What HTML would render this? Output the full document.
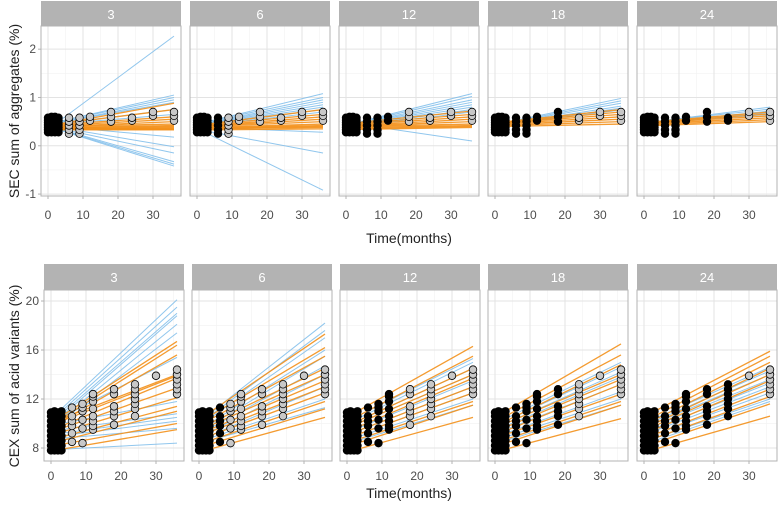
<!DOCTYPE html>
<html><head><meta charset="utf-8">
<style>
html,body{margin:0;padding:0;background:#fff;}
svg{display:block;font-family:"Liberation Sans",Arial,sans-serif;}
</style></head>
<body>
<svg id="chart" width="781" height="507" viewBox="0 0 781 507" xmlns="http://www.w3.org/2000/svg">
<text x="0" y="0" transform="translate(19,111) rotate(-90)" text-anchor="middle" font-size="14" fill="#222">SEC sum of aggregates (%)</text>
<text x="0" y="0" transform="translate(19,376) rotate(-90)" text-anchor="middle" font-size="14" fill="#222">CEX sum of acid variants (%)</text>
<text x="409" y="243" text-anchor="middle" font-size="14" fill="#222">Time(months)</text>
<text x="409" y="498" text-anchor="middle" font-size="14" fill="#222">Time(months)</text>
</svg>
<script>
// ---- data ----
const panels = ["3","6","12","18","24"];
const cutoffs = [3,6,12,18,24];
const lineStart = 3;
const xTicks = [0,10,20,30];
const topYTicks = [-1,0,1,2];
const botYTicks = [8,12,16,20];

// top row (SEC) observations
const secTimes = [0,0,0,0,0,0,0,1,1,1,1,1,1,1,2,2,2,2,2,2,2,3,3,3,3,3,3,3,6,6,6,6,6,9,9,9,9,9,12,12,18,18,18,24,24,30,30,36,36,36];
const secVals  = [0.28,0.33,0.38,0.43,0.48,0.53,0.58,0.28,0.33,0.38,0.43,0.48,0.53,0.6,0.28,0.33,0.38,0.43,0.48,0.53,0.6,0.28,0.33,0.38,0.43,0.48,0.53,0.58,0.25,0.33,0.42,0.5,0.58,0.25,0.33,0.42,0.5,0.58,0.52,0.6,0.5,0.6,0.7,0.52,0.58,0.62,0.7,0.52,0.62,0.7];
// bottom row (CEX) observations
const cexTimes = [0,0,0,0,0,0,0,0,0,1,1,1,1,1,1,1,1,1,2,2,2,2,2,2,2,2,2,3,3,3,3,3,3,3,3,3,6,6,6,6,6,6,9,9,9,9,9,9,12,12,12,12,12,12,12,12,18,18,18,18,18,18,24,24,24,24,24,24,24,30,36,36,36,36,36,36];
const cexVals  = [7.8,8.2,8.6,9,9.4,9.8,10.2,10.6,10.9,7.8,8.2,8.6,9,9.4,9.8,10.2,10.6,11,7.8,8.2,8.6,9,9.4,9.8,10.2,10.6,10.9,7.8,8.2,8.6,9,9.4,9.8,10.2,10.6,11,8.5,9.2,9.8,10.2,10.6,11.3,8.4,9.6,10.3,11,11.3,11.6,9.5,9.8,10.2,10.6,11.2,11.8,12.2,12.4,9.9,10.6,11,11.4,12.4,12.8,10.6,11.2,11.6,12,12.4,12.8,13.2,13.9,12.4,12.8,13.2,13.6,14,14.4];

// predicted lines: start value (t=3) and end value (t=36), per panel
const secBlueStart = [[0.5,0.5,0.5,0.48,0.48,0.4,0.38,0.36,0.35,0.34,0.33,0.46,0.45],[0.5,0.5,0.48,0.47,0.46,0.45,0.44,0.43,0.38,0.3,0.25],[0.48,0.47,0.46,0.45,0.44,0.43,0.42,0.41,0.45],[0.48,0.47,0.46,0.45,0.44,0.44],[0.5,0.5,0.48,0.48,0.47]];
const secBlueEnd   = [[2.27,1.05,1.0,0.95,0.9,0.18,-0.02,-0.15,-0.33,-0.38,-0.42,0.75,0.65],[1.08,1.0,0.95,0.9,0.85,0.8,0.75,0.7,0.28,-0.15,-0.92],[1.08,1.02,0.95,0.9,0.85,0.8,0.75,0.7,0.1],[0.98,0.93,0.88,0.82,0.78,0.74],[0.8,0.76,0.72,0.68,0.65]];
const secOrStart = [[0.45,0.45,0.44,0.42,0.4,0.4,0.38,0.37,0.36,0.35,0.34,0.34,0.33],[0.45,0.44,0.42,0.41,0.4,0.38,0.37,0.36,0.35,0.33],[0.48,0.46,0.44,0.42,0.41,0.4,0.38,0.36,0.34],[0.5,0.49,0.48,0.46,0.44,0.42,0.4],[0.5,0.49,0.48,0.46,0.44,0.42]];
const secOrEnd   = [[0.88,0.75,0.6,0.55,0.5,0.45,0.42,0.4,0.38,0.36,0.35,0.34,0.33],[0.75,0.65,0.6,0.55,0.5,0.45,0.42,0.4,0.38,0.35],[0.72,0.65,0.6,0.55,0.5,0.45,0.42,0.4,0.38],[0.75,0.7,0.65,0.6,0.55,0.5,0.45],[0.7,0.66,0.62,0.58,0.54,0.5]];

const cexBlueStart = [[11.2,11,10.8,10.6,10.4,10.2,10.5,10,9.5,9.2,9,8.8,7.9],[10.8,10.6,10.4,10,9.8,9.6,9.3,9,8.8,8.6],[10.6,10.4,10.2,10,9.6,9.4,9.1,8.9,8.6],[10.4,10.2,10,9.8,9.5,9.2,8.9,8.6],[10.4,10.2,10,9.8,9.6,9.4,9.1,8.8,8.6]];
const cexBlueEnd   = [[20.1,19.5,19.0,18.8,18.1,17.4,15.4,11.8,10.8,10.5,10.2,9.6,8.4],[18.2,17.6,17.0,16.0,15.5,14.7,14.0,13.0,12.0,11.3],[15.3,15,14.5,14,13.5,13,12.5,12,11.5],[15.0,14.6,14.2,13.8,13.2,12.6,12,11.5],[14.6,14.3,14,13.6,13.3,13,12.5,12,11.8]];
const cexOrStart = [[10.6,10.4,10.2,10.4,10.2,9.8,9.6,9.3,8.9,8.6,8.3,7.9],[10.9,10.6,10.3,10,9.8,9.5,9.3,9,8.6,8.3,7.9],[11,10.6,10.2,10,9.7,9.4,9.1,8.7,8.4,7.9],[11,10.6,10.2,10,9.7,9.4,9.1,8.7,8.4,7.9],[11,10.6,10.3,10,9.8,9.5,9.1,8.8,8.4,7.9]];
const cexOrEnd   = [[16.7,16.4,15.6,14.0,13.9,13.7,12.9,12.1,11.4,11,10,9.5],[17.3,16.2,15.5,14.5,14,13.5,13,12.5,11.8,11.2,10.5],[16.3,15.5,14.5,14,13.7,13,12.5,11.8,11.5,10.5],[16.5,15.6,14.8,14,13.6,13.2,12.4,11.8,11.5,10.4],[15.9,15.5,15,14.5,14,13.5,12.8,12.2,11.6,10.6]];

// ---- layout ----
const NS = "http://www.w3.org/2000/svg";
const svg = document.getElementById('chart');
function mk(tag, attrs, parent){
  const e = document.createElementNS(NS, tag);
  for (const k in attrs) e.setAttribute(k, attrs[k]);
  (parent||svg).appendChild(e);
  return e;
}
const rows = [
  {name:'sec', lefts:[41,190,339,488,637], w:140, stripTop:1, plotTop:26, plotBot:196,
   yMin:-1.04, yMax:2.48, yTicks:topYTicks, minor:[-0.5,0.5,1.5], times:secTimes, vals:secVals,
   bS:secBlueStart, bE:secBlueEnd, oS:secOrStart, oE:secOrEnd, tickY:219},
  {name:'cex', lefts:[44,192,340,488,637], w:140, stripTop:264, plotTop:290, plotBot:461,
   yMin:6.94, yMax:20.9, yTicks:botYTicks, minor:[10,14,18], times:cexTimes, vals:cexVals,
   bS:cexBlueStart, bE:cexBlueEnd, oS:cexOrStart, oE:cexOrEnd, tickY:480}
];
const tMin = -2, tMax = 38;
rows.forEach(function(r){
  const yS = v => r.plotBot - (v - r.yMin) / (r.yMax - r.yMin) * (r.plotBot - r.plotTop);
  r.lefts.forEach(function(L, pi){
    const xS = t => L + (t - tMin) / (tMax - tMin) * r.w;
    const g = mk('g', {});
    
    
    const strip = mk('rect', {x:L, y:r.stripTop, width:r.w, height:r.plotTop - r.stripTop, fill:'#b3b3b3'}, g);
    
    
    const st = mk('text', {x:L + r.w/2, y:r.stripTop + 18, 'text-anchor':'middle', 'font-size':13, fill:'#fff'}, g);
    
    
    st.textContent = panels[pi];
    // grid
    [5,15,25,35].forEach(function(t){ mk('line',{x1:xS(t),x2:xS(t),y1:r.plotTop,y2:r.plotBot,stroke:'#f2f2f2','stroke-width':0.6},g); });
    r.minor.forEach(function(v){ mk('line',{x1:L,x2:L+r.w,y1:yS(v),y2:yS(v),stroke:'#f2f2f2','stroke-width':0.6},g); });
    xTicks.forEach(function(t){ mk('line',{x1:xS(t),x2:xS(t),y1:r.plotTop,y2:r.plotBot,stroke:'#e3e3e3','stroke-width':1},g); });
    r.yTicks.forEach(function(v){ mk('line',{x1:L,x2:L+r.w,y1:yS(v),y2:yS(v),stroke:'#e3e3e3','stroke-width':1},g); });
    // lines
    const c = cutoffs[pi];
    r.bS[pi].forEach(function(s, i){
      const ln = mk('line',{x1:xS(lineStart),y1:yS(s),x2:xS(36),y2:yS(r.bE[pi][i]),stroke:'#7cbcea','stroke-width':1,'stroke-opacity':0.85},g);
      
      
    });
    r.oS[pi].forEach(function(s, i){
      const ln = mk('line',{x1:xS(lineStart),y1:yS(s),x2:xS(36),y2:yS(r.oE[pi][i]),stroke:'#f39019','stroke-width':1.3,'stroke-opacity':0.9},g);
      
      
    });
    // points
    r.times.forEach(function(t, i){
      const black = t <= c;
      const p = mk('circle',{cx:xS(t),cy:yS(r.vals[i]),r:3.8,fill:black?'#000':'#c8c8c8',stroke:'#000','stroke-width':0.8},g);
      
      
    });
    // border
    mk('rect',{x:L,y:r.plotTop,width:r.w,height:r.plotBot-r.plotTop,fill:'none',stroke:'#b3b3b3','stroke-width':1},g);
    // x ticks
    xTicks.forEach(function(t){
      mk('line',{x1:xS(t),x2:xS(t),y1:r.plotBot,y2:r.plotBot+3,stroke:'#b3b3b3'},g);
      const tl = mk('text',{x:xS(t),y:r.tickY,'text-anchor':'middle','font-size':12,fill:'#4d4d4d'},g);
      
      
      tl.textContent = t;
    });
    if (pi === 0){
      r.yTicks.forEach(function(v){
        mk('line',{x1:L-3,x2:L,y1:yS(v),y2:yS(v),stroke:'#b3b3b3'},g);
        const yl = mk('text',{x:L-5,y:yS(v)+4,'text-anchor':'end','font-size':12,fill:'#4d4d4d'},g);
        
        
        yl.textContent = v;
      });
    }
  });
});
</script>
</body></html>
